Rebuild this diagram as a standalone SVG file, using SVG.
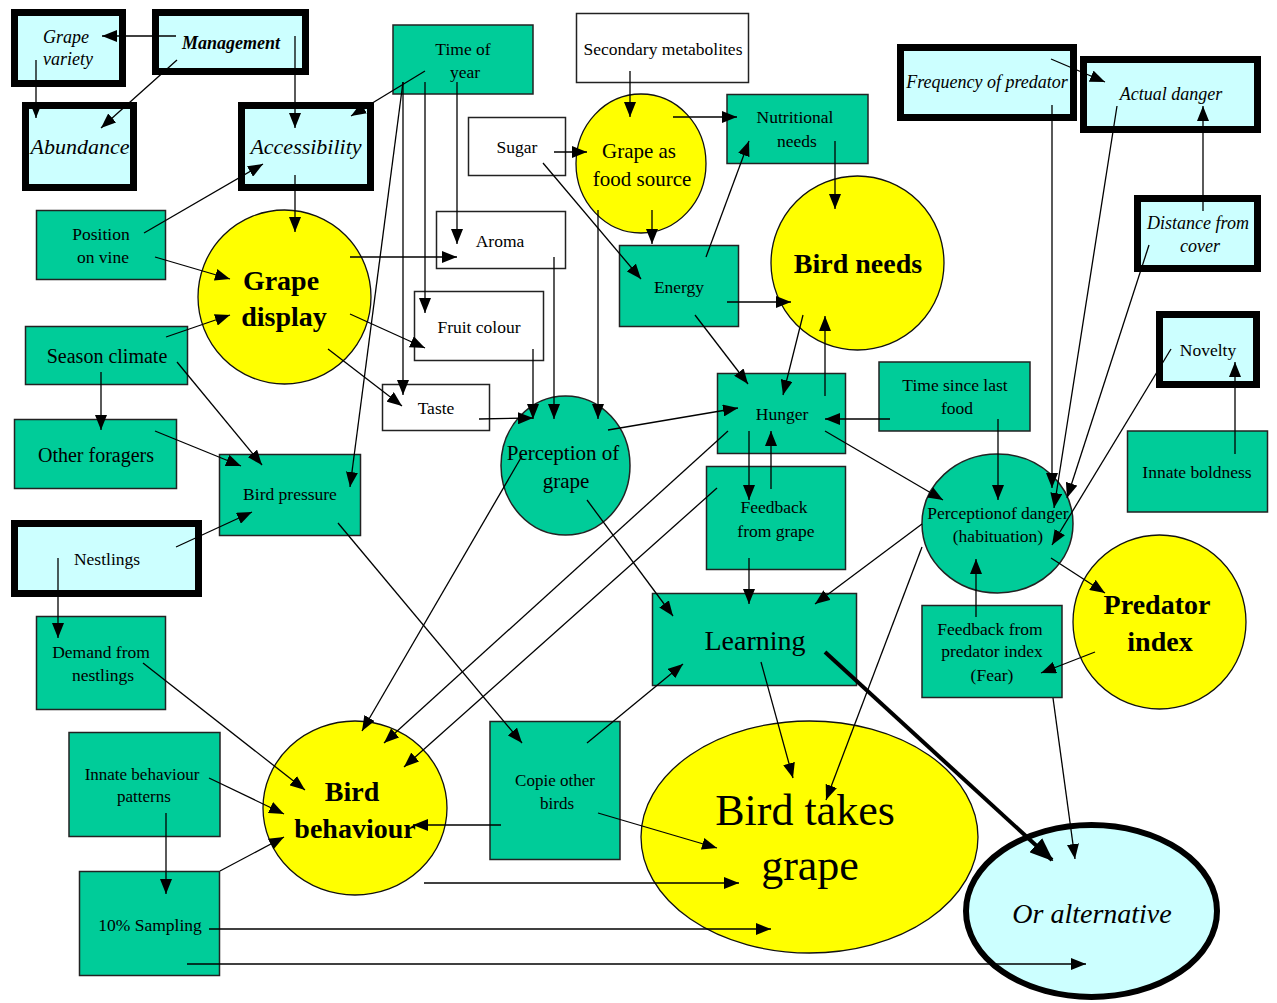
<svg xmlns="http://www.w3.org/2000/svg" width="1277" height="1003" viewBox="0 0 1277 1003">
<style>
.g{fill:#00CC99;stroke:#222;stroke-width:1.5}
.w{fill:#fff;stroke:#222;stroke-width:1.5}
.c{fill:#CCFFFF;stroke:#000;stroke-width:7}
.y{fill:#FFFF00;stroke:#111;stroke-width:1.3}
text{font-family:"Liberation Serif","Times New Roman",serif;text-anchor:middle;fill:#000;font-size:17.5px}
.i{font-style:italic}
.b{font-weight:bold}
.s20{font-size:20px}
.s21{font-size:21px}
.s22{font-size:22px}
.s28{font-size:28px}
.s44{font-size:44px}
#connectors line{stroke:#000;stroke-width:1.3;marker-end:url(#ah)}
#connectors line.thick{stroke-width:4;marker-end:url(#ahb)}
</style>
<defs>
<marker id="ah" markerUnits="userSpaceOnUse" markerWidth="15" markerHeight="12" refX="15" refY="6" orient="auto" viewBox="0 0 15 12"><path d="M0,0 L15,6 L0,12 z" fill="#000"/></marker>
<marker id="ahb" markerUnits="userSpaceOnUse" markerWidth="24" markerHeight="19" refX="22" refY="9.5" orient="auto" viewBox="0 0 24 19"><path d="M0,0 L24,9.5 L0,19 z" fill="#000"/></marker>
</defs>
<rect width="1277" height="1003" fill="#fff"/>
<g id="nodes">
<g id="grape-variety"><rect class="c" x="14.5" y="12.5" width="108" height="71"/><text class="i" font-size="18" x="66" y="43" style="font-size:18px">Grape</text><text class="i" style="font-size:18px" x="68" y="65">variety</text></g>
<g id="management"><rect class="c" x="155.5" y="12.5" width="150" height="59"/><text class="i b" style="font-size:18px" x="231" y="49">Management</text></g>
<g id="abundance"><rect class="c" x="25.5" y="105.5" width="108" height="82"/><text class="i s22" x="80" y="154">Abundance</text></g>
<g id="accessibility"><rect class="c" x="241.5" y="105.5" width="129" height="82"/><text class="i s22" x="306" y="154">Accessibility</text></g>
<g id="time-of-year"><rect class="g" x="393" y="25" width="140" height="69"/><text x="463" y="55">Time of</text><text x="465" y="78">year</text></g>
<g id="secondary-metabolites"><rect class="w" x="576.5" y="13.5" width="172" height="69"/><text x="663" y="55">Secondary metabolites</text></g>
<g id="sugar"><rect class="w" x="468.5" y="117.5" width="97" height="58"/><text x="517" y="153">Sugar</text></g>
<g id="grape-food-source"><ellipse class="y" cx="641" cy="163.5" rx="65" ry="69.5"/><text class="s21" x="639" y="158">Grape as</text><text class="s21" x="642" y="186">food source</text></g>
<g id="nutritional-needs"><rect class="g" x="727" y="94.5" width="141" height="69"/><text x="795" y="123">Nutritional</text><text x="797" y="147">needs</text></g>
<g id="aroma"><rect class="w" x="436.5" y="211.5" width="129" height="57"/><text x="500" y="247">Aroma</text></g>
<g id="energy"><rect class="g" x="619.5" y="245.5" width="119" height="81"/><text x="679" y="293">Energy</text></g>
<g id="bird-needs"><ellipse class="y" cx="857.5" cy="263" rx="86.5" ry="87"/><text class="b s28" x="858" y="273">Bird needs</text></g>
<g id="position-on-vine"><rect class="g" x="36.5" y="210.5" width="129" height="69"/><text x="101" y="240">Position</text><text x="103" y="263">on vine</text></g>
<g id="grape-display"><ellipse class="y" cx="284.5" cy="297" rx="86.5" ry="87"/><text class="b s28" x="281" y="290">Grape</text><text class="b s28" x="284" y="326">display</text></g>
<g id="fruit-colour"><rect class="w" x="414.5" y="291.5" width="129" height="69"/><text x="479" y="333">Fruit colour</text></g>
<g id="season-climate"><rect class="g" x="25.5" y="326.5" width="162" height="58"/><text class="s20" x="107" y="363">Season climate</text></g>
<g id="taste"><rect class="w" x="382.5" y="384.5" width="107" height="46"/><text x="436" y="414">Taste</text></g>
<g id="perception-of-grape"><ellipse class="g" cx="565.5" cy="465.5" rx="64.5" ry="69.5"/><text class="s21" x="563" y="460">Perception of</text><text class="s21" x="566" y="488">grape</text></g>
<g id="hunger"><rect class="g" x="717.5" y="373.5" width="128" height="80"/><text x="782" y="420">Hunger</text></g>
<g id="time-since-last-food"><rect class="g" x="879" y="362" width="151" height="69"/><text x="955" y="391">Time since last</text><text x="957" y="414">food</text></g>
<g id="frequency-of-predator"><rect class="c" x="900.5" y="47.5" width="173" height="70"/><text class="i" style="font-size:18px" x="987" y="88">Frequency of predator</text></g>
<g id="actual-danger"><rect class="c" x="1083.5" y="59.5" width="174" height="70"/><text class="i" style="font-size:18px" x="1171" y="100">Actual danger</text></g>
<g id="distance-from-cover"><rect class="c" x="1137.5" y="198.5" width="120" height="70"/><text class="i" style="font-size:18px" x="1198" y="229">Distance from</text><text class="i" style="font-size:18px" x="1200" y="252">cover</text></g>
<g id="novelty"><rect class="c" x="1159.5" y="314.5" width="97" height="70"/><text x="1208" y="356">Novelty</text></g>
<g id="innate-boldness"><rect class="g" x="1127.5" y="431" width="140" height="81"/><text x="1197" y="478">Innate boldness</text></g>
<g id="other-foragers"><rect class="g" x="14.5" y="419.5" width="162" height="69"/><text class="s20" x="96" y="462">Other foragers</text></g>
<g id="bird-pressure"><rect class="g" x="219.5" y="454.5" width="141" height="81"/><text x="290" y="500">Bird pressure</text></g>
<g id="nestlings"><rect class="c" x="14.5" y="523.5" width="184" height="70"/><text x="107" y="565">Nestlings</text></g>
<g id="demand-from-nestlings"><rect class="g" x="36.5" y="616.5" width="129" height="93"/><text x="101" y="658">Demand from</text><text x="103" y="681">nestlings</text></g>
<g id="innate-behaviour-patterns"><rect class="g" x="69" y="732.5" width="151" height="104"/><text style="font-size:17px" x="142" y="780">Innate behaviour</text><text style="font-size:17px" x="144" y="802">patterns</text></g>
<g id="sampling"><rect class="g" x="79.5" y="871.5" width="140" height="104"/><text x="150" y="931">10% Sampling</text></g>
<g id="bird-behaviour"><ellipse class="y" cx="355" cy="808" rx="92" ry="87"/><text class="b s28" x="352" y="801">Bird</text><text class="b s28" x="355" y="838">behaviour</text></g>
<g id="copie-other-birds"><rect class="g" x="490" y="721.5" width="130" height="138"/><text style="font-size:17px" x="555" y="786">Copie other</text><text style="font-size:17px" x="557" y="809">birds</text></g>
<g id="learning"><rect class="g" x="652.5" y="593.5" width="204" height="92"/><text class="s28" x="755" y="650">Learning</text></g>
<g id="feedback-from-grape"><rect class="g" x="706.5" y="466.5" width="139" height="103"/><text x="774" y="513">Feedback</text><text x="776" y="537">from grape</text></g>
<g id="perception-of-danger"><ellipse class="g" cx="997.5" cy="523.5" rx="75.5" ry="69.5"/><text x="998" y="519">Perceptionof danger</text><text x="998" y="542">(habituation)</text></g>
<g id="predator-index"><ellipse class="y" cx="1159.5" cy="622" rx="86.5" ry="87"/><text class="b s28" x="1157" y="614">Predator</text><text class="b s28" x="1160" y="651">index</text></g>
<g id="feedback-predator"><rect class="g" x="922" y="605.5" width="140" height="92"/><text x="990" y="635">Feedback from</text><text x="992" y="657">predator index</text><text x="992" y="681">(Fear)</text></g>
<g id="bird-takes-grape"><ellipse class="y" cx="809.5" cy="837" rx="168.5" ry="116"/><text class="s44" x="805" y="825">Bird takes</text><text class="s44" x="810" y="880">grape</text></g>
<g id="or-alternative"><ellipse cx="1091.5" cy="911" rx="125.5" ry="86" fill="#CCFFFF" stroke="#000" stroke-width="6"/><text class="i s28" x="1092" y="923">Or alternative</text></g>
</g>
<g id="connectors">
<line x1="176" y1="36" x2="102" y2="36"/>
<line x1="177" y1="60" x2="101" y2="128"/>
<line x1="36" y1="60" x2="36" y2="118"/>
<line x1="295" y1="36" x2="295" y2="128"/>
<line x1="425" y1="71" x2="351" y2="116"/>
<line x1="144" y1="233" x2="263" y2="164"/>
<line x1="155" y1="257" x2="230" y2="279"/>
<line x1="295" y1="175" x2="295" y2="232"/>
<line x1="166" y1="337" x2="230" y2="315"/>
<line x1="350" y1="257" x2="457" y2="257"/>
<line x1="350" y1="314" x2="425" y2="348"/>
<line x1="328" y1="349" x2="402" y2="406"/>
<line x1="457" y1="82" x2="457" y2="244"/>
<line x1="425" y1="82" x2="425" y2="313"/>
<line x1="403" y1="82" x2="403" y2="395"/>
<line x1="403" y1="82" x2="350" y2="487"/>
<line x1="554" y1="152" x2="587" y2="152"/>
<line x1="543" y1="163" x2="641" y2="279"/>
<line x1="630" y1="71" x2="630" y2="117"/>
<line x1="673" y1="117" x2="737" y2="117"/>
<line x1="652" y1="210" x2="652" y2="244"/>
<line x1="706" y1="257" x2="749" y2="141"/>
<line x1="727" y1="302" x2="791" y2="302"/>
<line x1="835" y1="141" x2="835" y2="209"/>
<line x1="695" y1="315" x2="748" y2="384"/>
<line x1="803" y1="315" x2="783" y2="395"/>
<line x1="825" y1="396" x2="825" y2="316"/>
<line x1="554" y1="257" x2="554" y2="419"/>
<line x1="533" y1="349" x2="533" y2="419"/>
<line x1="598" y1="210" x2="598" y2="419"/>
<line x1="479" y1="419" x2="533" y2="418"/>
<line x1="608" y1="430" x2="738" y2="408"/>
<line x1="890" y1="419" x2="825" y2="419"/>
<line x1="998" y1="419" x2="998" y2="500"/>
<line x1="825" y1="431" x2="943" y2="500"/>
<line x1="749" y1="431" x2="749" y2="500"/>
<line x1="771" y1="489" x2="771" y2="431"/>
<line x1="749" y1="558" x2="749" y2="604"/>
<line x1="587" y1="500" x2="673" y2="616"/>
<line x1="922" y1="524" x2="815" y2="604"/>
<line x1="728" y1="431" x2="384" y2="743"/>
<line x1="717" y1="488" x2="404" y2="767"/>
<line x1="522" y1="456" x2="362" y2="731"/>
<line x1="338" y1="523" x2="522" y2="743"/>
<line x1="587" y1="743" x2="683" y2="664"/>
<line x1="501" y1="825" x2="413" y2="825"/>
<line x1="598" y1="813" x2="717" y2="848"/>
<line x1="101" y1="372" x2="101" y2="430"/>
<line x1="177" y1="362" x2="262" y2="465"/>
<line x1="155" y1="431" x2="241" y2="466"/>
<line x1="176" y1="547" x2="252" y2="512"/>
<line x1="58" y1="558" x2="58" y2="638"/>
<line x1="143" y1="663" x2="305" y2="790"/>
<line x1="209" y1="778" x2="284" y2="814"/>
<line x1="166" y1="813" x2="166" y2="894"/>
<line x1="220" y1="871" x2="284" y2="837"/>
<line x1="424" y1="883" x2="739" y2="883"/>
<line x1="209" y1="929" x2="771" y2="929"/>
<line x1="187" y1="964" x2="1086" y2="964"/>
<line x1="761" y1="662" x2="793" y2="778"/>
<line x1="922" y1="547" x2="826" y2="800"/>
<line class="thick" x1="825" y1="652" x2="1052" y2="860"/>
<line x1="1053" y1="698" x2="1075" y2="859"/>
<line x1="1095" y1="652" x2="1041" y2="673"/>
<line x1="1051" y1="558" x2="1105" y2="593"/>
<line x1="976" y1="617" x2="976" y2="559"/>
<line x1="1051" y1="59" x2="1105" y2="82"/>
<line x1="1052" y1="105" x2="1052" y2="488"/>
<line x1="1117" y1="106" x2="1054" y2="508"/>
<line x1="1203" y1="211" x2="1203" y2="106"/>
<line x1="1149" y1="245" x2="1067" y2="498"/>
<line x1="1171" y1="349" x2="1052" y2="545"/>
<line x1="1235" y1="454" x2="1235" y2="362"/>
</g>
</svg>
